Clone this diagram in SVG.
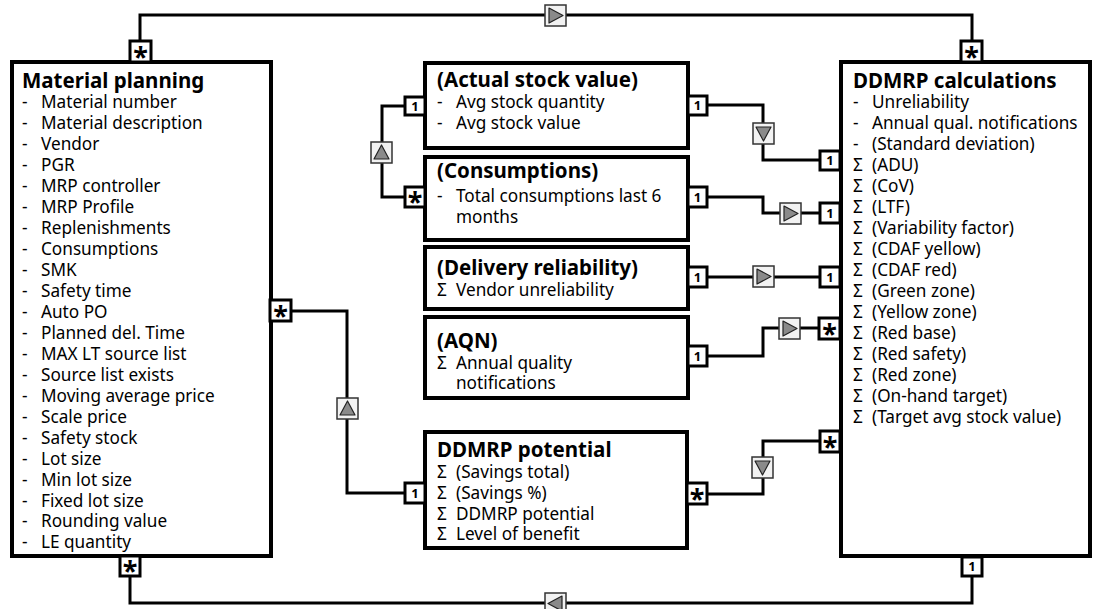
<svg xmlns="http://www.w3.org/2000/svg" width="1095" height="609" viewBox="0 0 1095 609">
  <style>
    .box { fill: #fff; stroke: #000; stroke-width: 4; }
    .wire { fill: none; stroke: #000; stroke-width: 3; }
    .badge rect { fill: #fff; stroke: #000; stroke-width: 3; }
    .one { font-family: "Noto Sans", "DejaVu Sans", sans-serif; font-weight: bold; font-size: 13px; text-anchor: middle; }
    .many { font-family: "Noto Sans", "DejaVu Sans", sans-serif; font-weight: bold; font-size: 27px; text-anchor: middle; }
    .title { font-family: "Noto Sans", "DejaVu Sans", sans-serif; font-weight: bold; font-size: 20.5px; }
    .item { font-family: "Noto Sans", "DejaVu Sans", sans-serif; font-size: 17.2px; }
  </style>
  <defs>
    <!-- navigation markers: light frame with a grey triangle -->
    <g id="dir-right"><rect x="0" y="0" width="21" height="21" fill="#f2f2f2" stroke="#333" stroke-width="1.5"/><path d="M4,3 L18,10.5 L4,18 Z" fill="#8a8a8a" stroke="#222" stroke-width="1.2" stroke-linejoin="round"/></g>
    <g id="dir-left"><rect x="0" y="0" width="21" height="21" fill="#f2f2f2" stroke="#333" stroke-width="1.5"/><path d="M17,3 L3,10.5 L17,18 Z" fill="#8a8a8a" stroke="#222" stroke-width="1.2" stroke-linejoin="round"/></g>
    <g id="dir-up"><rect x="0" y="0" width="21" height="21" fill="#f2f2f2" stroke="#333" stroke-width="1.5"/><path d="M3,17 L10.5,3 L18,17 Z" fill="#8a8a8a" stroke="#222" stroke-width="1.2" stroke-linejoin="round"/></g>
    <g id="dir-down"><rect x="0" y="0" width="21" height="21" fill="#f2f2f2" stroke="#333" stroke-width="1.5"/><path d="M3,4 L10.5,18 L18,4 Z" fill="#8a8a8a" stroke="#222" stroke-width="1.2" stroke-linejoin="round"/></g>
  </defs>

  <!-- relationship lines -->
  <g id="connectors">
    <path class="wire" d="M140,41 V15 H972 V41"/>
    <path class="wire" d="M130,576 V603 H972 V577"/>
    <path class="wire" d="M405,106 H382 V197 H405"/>
    <path class="wire" d="M707,105 H763 V160 H820"/>
    <path class="wire" d="M707,197 H763 V213 H820"/>
    <path class="wire" d="M707,277 H820"/>
    <path class="wire" d="M707,356 H763 V328 H819"/>
    <path class="wire" d="M291,311 H347 V493 H405"/>
    <path class="wire" d="M707,494 H763 V441 H820"/>
    <use href="#dir-right" x="545" y="5"/>
    <use href="#dir-left" x="545" y="593"/>
    <use href="#dir-up" x="371" y="142"/>
    <use href="#dir-down" x="753" y="123"/>
    <use href="#dir-right" x="780" y="203"/>
    <use href="#dir-right" x="753" y="266"/>
    <use href="#dir-right" x="779" y="318"/>
    <use href="#dir-up" x="337" y="398"/>
    <use href="#dir-down" x="752" y="457"/>
  </g>

  <g id="material-planning">
    <rect class="box" x="12" y="62" width="259" height="494"/>
    <text class="title" x="22" y="88">Material planning</text>
    <g class="item" transform="translate(0,1)">
      <text x="22" y="107">-</text><text x="41" y="107">Material number</text>
      <text x="22" y="128">-</text><text x="41" y="128">Material description</text>
      <text x="22" y="149">-</text><text x="41" y="149">Vendor</text>
      <text x="22" y="170">-</text><text x="41" y="170">PGR</text>
      <text x="22" y="191">-</text><text x="41" y="191">MRP controller</text>
      <text x="22" y="212">-</text><text x="41" y="212">MRP Profile</text>
      <text x="22" y="233">-</text><text x="41" y="233">Replenishments</text>
      <text x="22" y="254">-</text><text x="41" y="254">Consumptions</text>
      <text x="22" y="275">-</text><text x="41" y="275">SMK</text>
      <text x="22" y="296">-</text><text x="41" y="296">Safety time</text>
      <text x="22" y="317">-</text><text x="41" y="317">Auto PO</text>
      <text x="22" y="338">-</text><text x="41" y="338">Planned del. Time</text>
      <text x="22" y="359">-</text><text x="41" y="359">MAX LT source list</text>
      <text x="22" y="380">-</text><text x="41" y="380">Source list exists</text>
      <text x="22" y="401">-</text><text x="41" y="401">Moving average price</text>
      <text x="22" y="422">-</text><text x="41" y="422">Scale price</text>
      <text x="22" y="443">-</text><text x="41" y="443">Safety stock</text>
      <text x="22" y="464">-</text><text x="41" y="464">Lot size</text>
      <text x="22" y="485">-</text><text x="41" y="485">Min lot size</text>
      <text x="22" y="506">-</text><text x="41" y="506">Fixed lot size</text>
      <text x="22" y="526">-</text><text x="41" y="526">Rounding value</text>
      <text x="22" y="547">-</text><text x="41" y="547">LE quantity</text>
    </g>
    <g class="badge">
      <rect x="130" y="41" width="21" height="21"/><text class="many" x="140.5" y="67">*</text>
      <rect x="270" y="300" width="21" height="21"/><text class="many" x="280.5" y="326">*</text>
      <rect x="120" y="556" width="20" height="20"/><text class="many" x="130" y="581">*</text>
    </g>
  </g>

  <g id="actual-stock-value">
    <rect class="box" x="425" y="63" width="263" height="85"/>
    <text class="title" x="437" y="87">(Actual stock value)</text>
    <g class="item" transform="translate(0,1)">
      <text x="437" y="107">-</text><text x="456" y="107">Avg stock quantity</text>
      <text x="437" y="128">-</text><text x="456" y="128">Avg stock value</text>
    </g>
    <g class="badge">
      <rect x="405" y="97" width="20" height="18"/><text class="one" x="415" y="110.5">1</text>
      <rect x="688" y="96" width="19" height="19"/><text class="one" x="697.5" y="110">1</text>
    </g>
  </g>

  <g id="consumptions">
    <rect class="box" x="425" y="157" width="263" height="83"/>
    <text class="title" x="437" y="178">(Consumptions)</text>
    <g class="item" transform="translate(0,1)">
      <text x="437" y="201">-</text><text x="456" y="201">Total consumptions last 6</text>
      <text x="456" y="222">months</text>
    </g>
    <g class="badge">
      <rect x="405" y="187" width="20" height="20"/><text class="many" x="415" y="212">*</text>
      <rect x="688" y="187" width="19" height="20"/><text class="one" x="697.5" y="201.5">1</text>
    </g>
  </g>

  <g id="delivery-reliability">
    <rect class="box" x="425" y="247" width="263" height="62"/>
    <text class="title" x="437" y="275">(Delivery reliability)</text>
    <g class="item" transform="translate(0,1)">
      <text x="437" y="295">Σ</text><text x="456" y="295">Vendor unreliability</text>
    </g>
    <g class="badge">
      <rect x="688" y="267" width="19" height="20"/><text class="one" x="697.5" y="281.5">1</text>
    </g>
  </g>

  <g id="aqn">
    <rect class="box" x="425" y="317" width="263" height="81"/>
    <text class="title" x="437" y="348">(AQN)</text>
    <g class="item" transform="translate(0,1)">
      <text x="437" y="368">Σ</text><text x="456" y="368">Annual quality</text>
      <text x="456" y="388">notifications</text>
    </g>
    <g class="badge">
      <rect x="688" y="346" width="19" height="20"/><text class="one" x="697.5" y="360.5">1</text>
    </g>
  </g>

  <g id="ddmrp-potential">
    <rect class="box" x="425" y="432" width="262" height="116"/>
    <text class="title" x="437" y="457">DDMRP potential</text>
    <g class="item" transform="translate(0,1)">
      <text x="437" y="477">Σ</text><text x="456" y="477">(Savings total)</text>
      <text x="437" y="498">Σ</text><text x="456" y="498">(Savings %)</text>
      <text x="437" y="519">Σ</text><text x="456" y="519">DDMRP potential</text>
      <text x="437" y="539">Σ</text><text x="456" y="539">Level of benefit</text>
    </g>
    <g class="badge">
      <rect x="405" y="483" width="20" height="20"/><text class="one" x="415" y="497.5">1</text>
      <rect x="687" y="483" width="20" height="21"/><text class="many" x="697" y="509">*</text>
    </g>
  </g>

  <g id="ddmrp-calculations">
    <rect class="box" x="841" y="62" width="249" height="494"/>
    <text class="title" x="853" y="88">DDMRP calculations</text>
    <g class="item" transform="translate(0,1)">
      <text x="853" y="107">-</text><text x="872" y="107">Unreliability</text>
      <text x="853" y="128">-</text><text x="872" y="128">Annual qual. notifications</text>
      <text x="853" y="149">-</text><text x="872" y="149">(Standard deviation)</text>
      <text x="853" y="170">Σ</text><text x="872" y="170">(ADU)</text>
      <text x="853" y="191">Σ</text><text x="872" y="191">(CoV)</text>
      <text x="853" y="212">Σ</text><text x="872" y="212">(LTF)</text>
      <text x="853" y="233">Σ</text><text x="872" y="233">(Variability factor)</text>
      <text x="853" y="254">Σ</text><text x="872" y="254">(CDAF yellow)</text>
      <text x="853" y="275">Σ</text><text x="872" y="275">(CDAF red)</text>
      <text x="853" y="296">Σ</text><text x="872" y="296">(Green zone)</text>
      <text x="853" y="317">Σ</text><text x="872" y="317">(Yellow zone)</text>
      <text x="853" y="338">Σ</text><text x="872" y="338">(Red base)</text>
      <text x="853" y="359">Σ</text><text x="872" y="359">(Red safety)</text>
      <text x="853" y="380">Σ</text><text x="872" y="380">(Red zone)</text>
      <text x="853" y="401">Σ</text><text x="872" y="401">(On-hand target)</text>
      <text x="853" y="422">Σ</text><text x="872" y="422">(Target avg stock value)</text>
    </g>
    <g class="badge">
      <rect x="961" y="41" width="21" height="21"/><text class="many" x="971.5" y="67">*</text>
      <rect x="820" y="151" width="20" height="19"/><text class="one" x="830" y="165">1</text>
      <rect x="820" y="203" width="20" height="20"/><text class="one" x="830" y="217.5">1</text>
      <rect x="820" y="267" width="20" height="20"/><text class="one" x="830" y="281.5">1</text>
      <rect x="819" y="318" width="21" height="21"/><text class="many" x="829.5" y="344">*</text>
      <rect x="820" y="431" width="20" height="21"/><text class="many" x="830" y="457">*</text>
      <rect x="962" y="557" width="20" height="19"/><text class="one" x="972" y="571">1</text>
    </g>
  </g>
</svg>
